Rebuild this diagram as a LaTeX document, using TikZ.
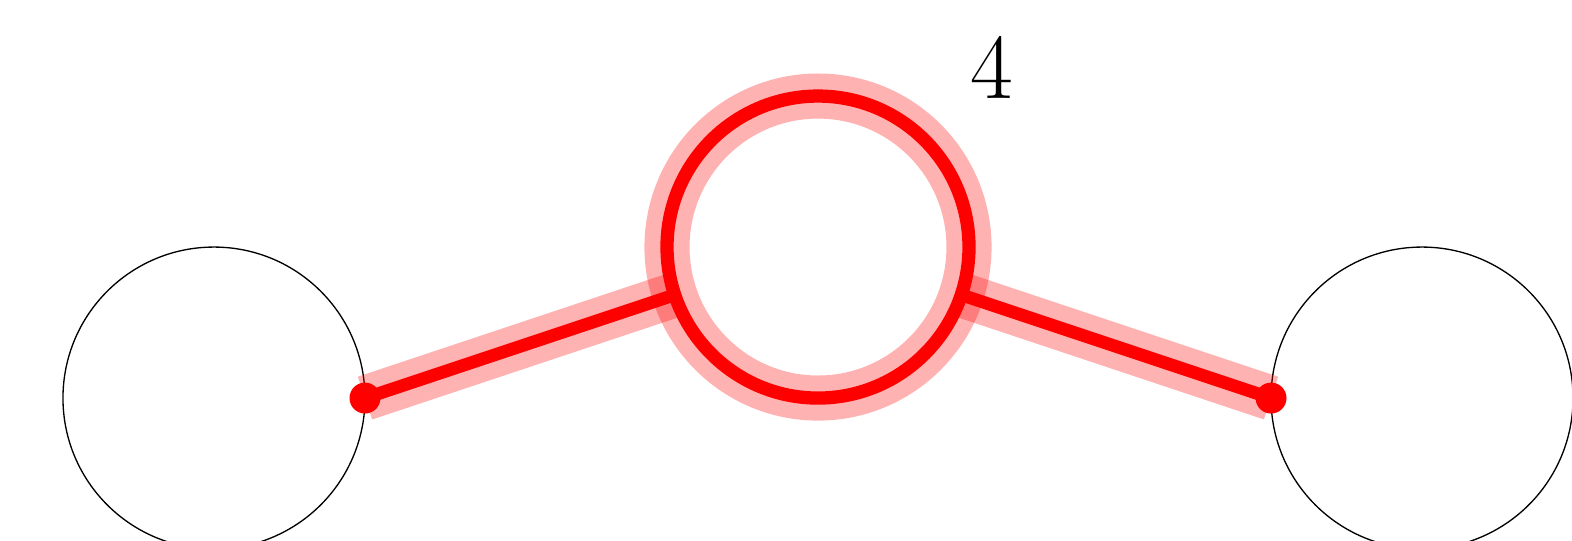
\documentclass[tikz,border=0pt]{standalone}
\usetikzlibrary{calc}
\begin{document}
\begin{tikzpicture}[x=1cm,y=1cm,
  blackcirc/.style={circle, draw=black, line width=0.25pt, minimum size=2cm, inner sep=0pt, outer sep=0pt},
  ringnode/.style={circle, draw=red, line width=2.5pt, minimum size=2cm, inner sep=0pt, outer sep=0pt},
  band/.style={draw=red, draw opacity=0.3, line width=8.5pt, line cap=butt},
  redline/.style={draw=red, line width=2.4pt, line cap=butt},
  dotnode/.style={circle, fill=red, minimum size=0.205cm, inner sep=0pt, outer sep=0pt},
  lbl/.style={inner sep=0pt, font=\fontsize{17.5}{20}\selectfont}]
\useasboundingbox (-1.417,-0.940) rectangle (8.993,2.636);
\node[blackcirc] (L) at (0,0) {};
\node[blackcirc] (R) at (8,0) {};
\coordinate (Mc) at (4,1);
\coordinate (d1) at (1,0);
\coordinate (d2) at (7,0);
% translucent bands
\draw[band] (Mc) circle (1cm);
\path (Mc) node[circle, minimum size=2cm, inner sep=0pt, outer sep=0pt] (Mb) {};
\draw[band] (d1) -- (Mb);
\draw[band] (d2) -- (Mb);
% red lines and ring
\draw[redline] (d1) -- (Mb);
\draw[redline] (d2) -- (Mb);
\node[ringnode] (M) at (Mc) {};
\node[dotnode] (p1) at (d1) {};
\node[dotnode] (p2) at (d2) {};
\node[lbl] (n4) at (5.15,2.192) {4};
\end{tikzpicture}
\end{document}
